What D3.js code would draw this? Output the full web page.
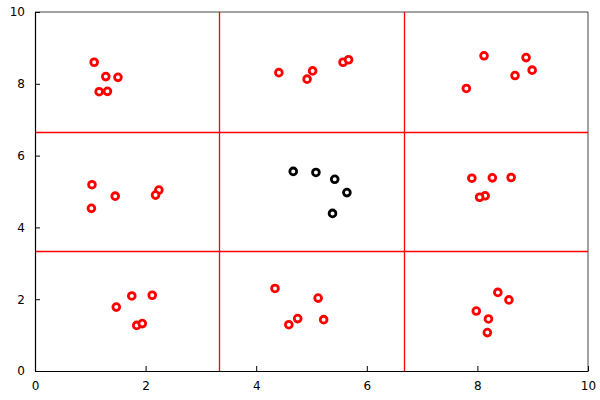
<!DOCTYPE html>
<html>
<head>
<meta charset="utf-8">
<script src="https://cdn.jsdelivr.net/npm/d3@7"></script>
<style>
  body { margin: 0; background: #fff; }
  svg { display: block; font-family: "DejaVu Sans", sans-serif; }
</style>
</head>
<body>
<script>
// Points, one group per grid cell
var redX = [1.07, 1.28, 1.50, 1.16, 1.31,
            4.41, 5.02, 4.92, 5.57, 5.67,
            8.12, 8.88, 8.99, 8.68, 7.80,
            1.03, 1.45, 2.24, 2.18, 1.02,
            7.90, 8.27, 8.61, 8.14, 8.04,
            1.75, 2.12, 1.47, 1.84, 1.94,
            4.34, 4.59, 4.75, 5.12, 5.22,
            8.37, 8.57, 7.98, 8.20, 8.18];
var redY = [8.60, 8.20, 8.18, 7.78, 7.79,
            8.31, 8.36, 8.13, 8.60, 8.67,
            8.78, 8.73, 8.38, 8.23, 7.87,
            5.19, 4.87, 5.04, 4.90, 4.53,
            5.37, 5.38, 5.39, 4.88, 4.84,
            2.09, 2.11, 1.78, 1.27, 1.32,
            2.30, 1.29, 1.46, 2.03, 1.43,
            2.19, 1.98, 1.67, 1.45, 1.07];
var blackX = [4.67, 5.08, 5.42, 5.64, 5.38];
var blackY = [5.56, 5.53, 5.34, 4.97, 4.39];
var gridLines = [10 / 3, 20 / 3];
var ticks = [0, 2, 4, 6, 8, 10];

var width = 600, height = 400;
var margin = {top: 12, right: 12, bottom: 29, left: 35};

var svg = d3.select("body").append("svg")
  .attr("width", width)
  .attr("height", height);

var x = d3.scaleLinear().domain([0, 10]).range([margin.left, width - margin.right]);
var y = d3.scaleLinear().domain([0, 10]).range([height - margin.bottom, margin.top]);

// Frame: top and right in gray
svg.append("line")
  .attr("x1", x(0)).attr("x2", x(10)).attr("y1", y(10)).attr("y2", y(10))
  .attr("stroke", "#444").attr("stroke-width", 1);
svg.append("line")
  .attr("x1", x(10)).attr("x2", x(10)).attr("y1", y(0)).attr("y2", y(10))
  .attr("stroke", "#444").attr("stroke-width", 1);

// Red cell dividers
svg.selectAll(".vline")
  .data(gridLines)
  .enter().append("line")
  .attr("x1", function (d) { return Math.round(x(d)) + 0.5; })
  .attr("x2", function (d) { return Math.round(x(d)) + 0.5; })
  .attr("y1", y(0)).attr("y2", y(10))
  .attr("stroke", "#f00").attr("stroke-width", 1.3);
svg.selectAll(".hline")
  .data(gridLines)
  .enter().append("line")
  .attr("y1", function (d) { return Math.round(y(d)) + 0.5; })
  .attr("y2", function (d) { return Math.round(y(d)) + 0.5; })
  .attr("x1", x(0)).attr("x2", x(10))
  .attr("stroke", "#f00").attr("stroke-width", 1.3);

// Axes with inward ticks
var xAxis = svg.append("g")
  .attr("transform", "translate(0," + y(0) + ")")
  .call(d3.axisBottom(x).tickValues(ticks).tickSizeInner(-5).tickSizeOuter(0).tickPadding(10));
var yAxis = svg.append("g")
  .attr("transform", "translate(" + x(0) + ",0)")
  .call(d3.axisLeft(y).tickValues(ticks).tickSizeInner(-5).tickSizeOuter(0).tickPadding(10));

[xAxis, yAxis].forEach(function (g) {
  g.select(".domain").attr("stroke", "#000").attr("stroke-width", 1.2);
  g.selectAll(".tick line").attr("stroke", "#000");
  g.selectAll(".tick text")
    .attr("fill", "#000")
    .style("font-size", "12px")
    .style("font-family", "'DejaVu Sans', sans-serif");
});

// Points
var redPts = redX.map(function (d, i) { return [d, redY[i]]; });
var blackPts = blackX.map(function (d, i) { return [d, blackY[i]]; });

svg.selectAll(".red")
  .data(redPts)
  .enter().append("circle")
  .attr("cx", function (d) { return x(d[0]); })
  .attr("cy", function (d) { return y(d[1]); })
  .attr("r", 3.4)
  .attr("fill", "#fff")
  .attr("stroke", "#f00")
  .attr("stroke-width", 2.8);

svg.selectAll(".black")
  .data(blackPts)
  .enter().append("circle")
  .attr("cx", function (d) { return x(d[0]); })
  .attr("cy", function (d) { return y(d[1]); })
  .attr("r", 3.4)
  .attr("fill", "#fff")
  .attr("stroke", "#000")
  .attr("stroke-width", 2.8);
</script>
</body>
</html>
